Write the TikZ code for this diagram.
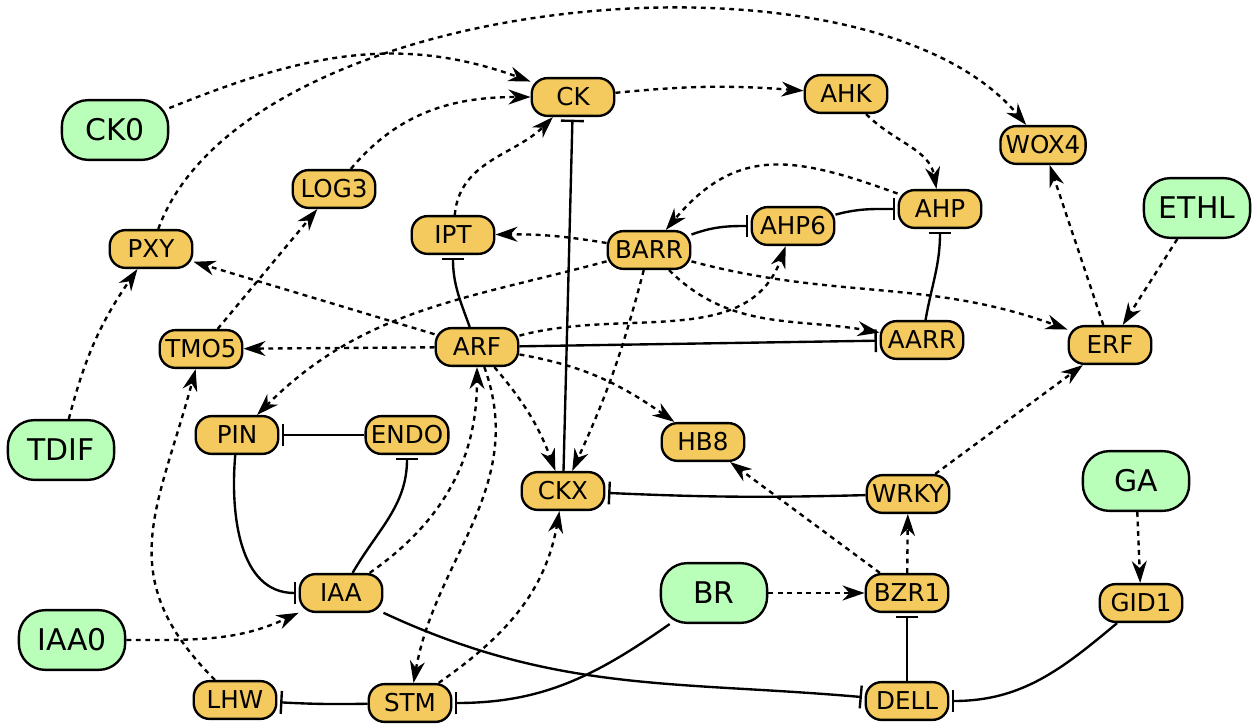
\documentclass[tikz,border=0pt]{standalone}
\usepackage{fontspec}
\setmainfont{DejaVu Sans}
\usetikzlibrary{arrows.meta}

\definecolor{genefill}{HTML}{F4C95D}
\definecolor{signalfill}{HTML}{B9FFB9}

\begin{document}
\begin{tikzpicture}[
    x=0.02cm, y=0.02cm,
    line width=1.35pt,
    gene/.style={
        rectangle,
        fill=genefill,
        rounded corners=9pt,
        draw,
        minimum width=47pt,
        minimum height=21.5pt,
        inner xsep=3pt,
        inner ysep=0pt,
        font=\fontsize{14}{16}\selectfont
    },
    signal/.style={ % Hormone or signal node
        rectangle,
        fill=signalfill,
        rounded corners=15pt,
        draw,
        minimum width=60.5pt,
        minimum height=34pt,
        inner ysep=0pt,
        font=\fontsize{17}{20}\selectfont
    },
    act/.style={
        -{Stealth[length=12.5pt,width=8.5pt,inset=4pt]},
        dash pattern=on 2.8pt off 2.6pt
    },
    inh/.style={
        -{Bar[width=13pt]},
        shorten >=1.5pt
    }
]
    \useasboundingbox (0,0) rectangle (1254,724);

    % Signals
    \node[signal] (ck0) at (115,594) {CK0};
    \node[signal] (tdif) at (61,274) {TDIF};
    \node[signal] (iaa0) at (72,84) {IAA0};
    \node[signal] (br) at (714,131) {BR};
    \node[signal] (ga) at (1136,243) {GA};
    \node[signal] (ethl) at (1197,516) {ETHL};

    % Genes, top part
    \node[gene] (ck) at (573,627) {CK};
    \node[gene] (ahk) at (846,630) {AHK};
    \node[gene] (wox4) at (1043,579) {WOX4};
    \node[gene] (log3) at (334,535) {LOG3};
    \node[gene] (ipt) at (453,489) {IPT};
    \node[gene] (barr) at (649,474) {BARR};
    \node[gene] (ahp6) at (793,498) {AHP6};
    \node[gene] (ahp) at (940,515) {AHP};
    \node[gene] (pxy) at (151,475) {PXY};
    \node[gene] (tmo5) at (201,375) {TMO5};
    \node[gene] (arf) at (477,377) {ARF};
    \node[gene] (aarr) at (922,384) {AARR};
    \node[gene] (erf) at (1110,379) {ERF};
    % Genes, bottom part
    \node[gene] (pin) at (237,289) {PIN};
    \node[gene] (endo) at (407,289) {ENDO};
    \node[gene] (hb8) at (703,282) {HB8};
    \node[gene] (ckx) at (563,233) {CKX};
    \node[gene] (wrky) at (908,230) {WRKY};
    \node[gene] (iaa) at (341,131) {IAA};
    \node[gene] (bzr1) at (907,131) {BZR1};
    \node[gene] (gid1) at (1141,121) {GID1};
    \node[gene] (lhw) at (235,24) {LHW};
    \node[gene] (stm) at (410,21) {STM};
    \node[gene] (dell) at (907,23) {DELL};

    % Activations
    \draw[act] (ck0) to[out=22, in=160] (ck);
    \draw[act] (log3) to[out=50, in=180] (ck);
    \draw[act] (ipt) to[out=85, in=225] (ck);
    \draw[act] (ck) to[bend left=5] (ahk);
    \draw[act] (ahk) to[out=-45, in=100] (ahp);
    \draw[act] (pxy) to[out=70, in=130, looseness=0.74] (wox4);
    \draw[act] (ahp) to[out=160, in=50, looseness=1.2] (barr);
    \draw[act] (barr) to[bend right=5] (ipt);
    \draw[act] (barr) to[out=195, in=45] (pin);
    \draw[act] (barr) to[bend left=5] (ckx);
    \draw[act] (barr) to[out=-45, in=170] (aarr);
    \draw[act] (barr) to[out=-15, in=160] (erf);
    \draw[act] (arf) to[out=15, in=250] (ahp6);
    \draw[act] (arf) -- (pxy);
    \draw[act] (arf) -- (tmo5);
    \draw[act] (tmo5) -- (log3);
    \draw[act] (arf) to[out=-10, in=145] (hb8);
    \draw[act] (arf) to[bend left=10] (ckx);
    \draw[act] (arf) to[out=-70, in=80] (stm);
    \draw[act] (iaa) to[out=35, in=-90] (arf);
    \draw[act] (tdif) to[bend left=10] (pxy);
    \draw[act] (ethl) -- (erf);
    \draw[act] (erf) -- (wox4);
    \draw[act] (wrky) -- (erf);
    \draw[act] (bzr1) -- (wrky);
    \draw[act] (bzr1) -- (hb8);
    \draw[act] (br) -- (bzr1);
    \draw[act] (ga) -- (gid1);
    \draw[act] (iaa0) to[out=0, in=205] (iaa);
    \draw[act] (lhw) to[out=135, in=-105, looseness=1.2] (tmo5);
    \draw[act] (stm) to[out=35, in=-100] (ckx);

    % Inhibitions
    \draw[inh] (ckx) -- (ck);
    \draw[inh] (barr) to[out=20, in=180] (ahp6);
    \draw[inh] (ahp6) to[out=15, in=180] (ahp);
    \draw[inh] (aarr) to[out=80, in=-90] (ahp);
    \draw[inh] (arf) -- (aarr);
    \draw[inh] (arf) to[out=110, in=-90] (ipt);
    \draw[inh] (endo) -- (pin);
    \draw[inh] (iaa) to[out=60, in=-90] (endo);
    \draw[inh] (pin) to[out=-95, in=180] (iaa);
    \draw[inh] (wrky) to[bend left=2] (ckx);
    \draw[inh] (stm) to[bend left=2] (lhw);
    \draw[inh] (br) to[out=-145, in=0] (stm);
    \draw[inh] (iaa) to[out=-25, in=175] (dell);
    \draw[inh] (dell) -- (bzr1);
    \draw[inh] (gid1) to[out=-140, in=0] (dell);
\end{tikzpicture}
\end{document}
